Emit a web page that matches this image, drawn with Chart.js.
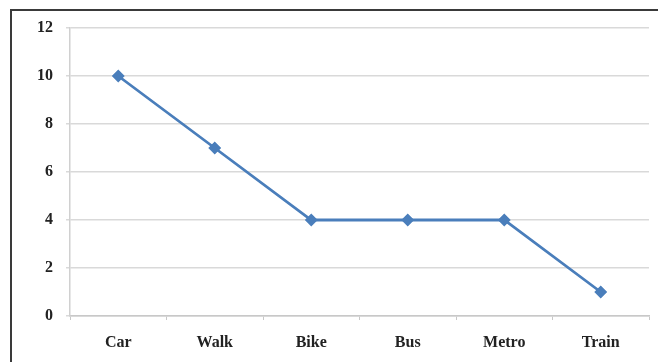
<!DOCTYPE html>
<html>
<head>
<meta charset="utf-8">
<script src="https://cdn.jsdelivr.net/npm/chart.js@4/dist/chart.umd.min.js"></script>
<style>
  html, body { margin: 0; padding: 0; background: #fff; overflow: hidden; }
  #wrap { position: relative; width: 658px; height: 362px; overflow: hidden; }
  #frame { position: absolute; left: 10px; top: 9px; width: 700px; height: 400px;
           border: 2.5px solid #3a3a3a; box-sizing: border-box; }
  canvas { position: absolute; left: 0; top: 0; }
</style>
</head>
<body>
<div id="wrap">
  <div id="frame"></div>
  <canvas id="chart" width="658" height="362"></canvas>
</div>
<script>
// Travel modes and their counts
const categories = ['Car', 'Walk', 'Bike', 'Bus', 'Metro', 'Train'];
const values = [10, 7, 4, 4, 4, 1];
const yTicks = [0, 2, 4, 6, 8, 10, 12];

const labelFont = { family: '"Liberation Serif", "Times New Roman", serif', size: 16, weight: 'bold' };

new Chart(document.getElementById('chart'), {
  type: 'line',
  data: {
    labels: categories,
    datasets: [{
      data: values,
      borderColor: '#4a7ebb',
      backgroundColor: '#4a7ebb',
      borderWidth: 2.8,
      pointStyle: 'rectRot',
      pointRadius: 4.5,
      pointHoverRadius: 4.5,
      tension: 0,
      fill: false
    }]
  },
  options: {
    responsive: false,
    animation: false,
    devicePixelRatio: 1,
    layout: { padding: { left: 0, top: 28, right: 9, bottom: 0 } },
    plugins: { legend: { display: false }, tooltip: { enabled: false } },
    scales: {
      x: {
        offset: true,
        grid: {
          offset: true,
          drawOnChartArea: false,
          drawTicks: true,
          tickLength: 4,
          color: '#c8c8c8'
        },
        border: { color: '#c8c8c8', width: 1.5 },
        ticks: { color: '#222', font: labelFont, padding: 13, maxRotation: 0 },
        afterFit: s => { s.height = 46; }
      },
      y: {
        min: 0,
        max: 12,
        afterBuildTicks: s => { s.ticks = yTicks.map(v => ({ value: v })); },
        grid: { color: '#d9d9d9', lineWidth: 1.5, tickLength: 4 },
        border: { color: '#d0d0d0', width: 1.5 },
        ticks: { color: '#222', font: labelFont, padding: 13 },
        afterFit: s => { s.width = 70; }
      }
    }
  }
});
</script>
</body>
</html>
